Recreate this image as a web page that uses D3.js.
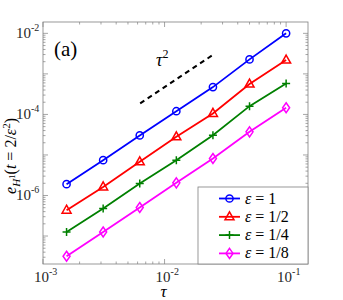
<!DOCTYPE html>
<html lang="en">
<head>
<meta charset="UTF-8">
<title>H1 error vs tau</title>
<script src="https://d3js.org/d3.v7.min.js"></script>
<style>
  body { margin: 0; background: #fff; }
</style>
</head>
<body>
<div id="chart"></div>
<script>
// time steps tau
var taus = [0.1, 0.05, 0.025, 0.0125, 0.00625, 0.003125, 0.0015625];

// errors for each epsilon
var errEps1 = [1.0e-2, 2.28e-3, 4.72e-4, 1.2e-4, 3.03e-5, 7.45e-6, 1.9e-6];
var errEps2 = [2.19e-3, 5.6e-4, 1.06e-4, 2.8e-5, 6.76e-6, 1.63e-6, 4.33e-7];
var errEps4 = [5.82e-4, 1.6e-4, 3.08e-5, 7.45e-6, 1.98e-6, 4.78e-7, 1.26e-7];
var errEps8 = [1.46e-4, 3.72e-5, 8.2e-6, 2.05e-6, 5.06e-7, 1.26e-7, 3.17e-8];

var seriesNames = ["1", "1/2", "1/4", "1/8"];

// reference slope line tau^2
var refTau = [0.0063, 0.0254];
var refErr = [1.87e-4, 1.87e-4 * Math.pow(0.0254 / 0.0063, 2)];

var xTickVals = [1e-3, 1e-2, 1e-1];
var yTickVals = [1e-6, 1e-4, 1e-2];

var W = 343, H = 300;
var margin = {top: 22, right: 35, bottom: 36, left: 43};
var width = W - margin.left - margin.right,
    height = H - margin.top - margin.bottom;

var serif = "'Liberation Serif', 'Times New Roman', Tinos, 'DejaVu Serif', serif";

var svg = d3.select("#chart").append("svg")
  .attr("width", W).attr("height", H)
  .attr("font-family", serif);

var x = d3.scaleLog().domain([1e-3, Math.pow(10, -0.82)]).range([0, width]);
var y = d3.scaleLog().domain([Math.pow(10, -7.69), Math.pow(10, -1.72)]).range([height, 0]);

var g = svg.append("g").attr("transform", "translate(" + margin.left + "," + margin.top + ")");

var axisColor = "#7f7f7f";

// minor / major ticks (inward, on all four sides)
function decadeTicks(lo, hi) {
  var out = [];
  for (var e = Math.floor(Math.log10(lo)); e <= Math.ceil(Math.log10(hi)); e++) {
    for (var m = 1; m <= 9; m++) {
      var v = m * Math.pow(10, e);
      if (v >= lo * 0.999 && v <= hi * 1.001) out.push({v: v, major: m === 1});
    }
  }
  return out;
}
var xt = decadeTicks(x.domain()[0], x.domain()[1]);
var yt = decadeTicks(y.domain()[0], y.domain()[1]);

var tickG = g.append("g").attr("stroke", axisColor).attr("stroke-width", 0.7);
xt.forEach(function(t) {
  var len = t.major ? 5 : 2.5;
  var px = x(t.v);
  tickG.append("line").attr("x1", px).attr("x2", px).attr("y1", height).attr("y2", height - len);
  tickG.append("line").attr("x1", px).attr("x2", px).attr("y1", 0).attr("y2", len);
});
yt.forEach(function(t) {
  var len = t.major ? 5 : 2.5;
  var py = y(t.v);
  tickG.append("line").attr("x1", 0).attr("x2", len).attr("y1", py).attr("y2", py);
  tickG.append("line").attr("x1", width).attr("x2", width - len).attr("y1", py).attr("y2", py);
});

// frame
g.append("rect").attr("width", width).attr("height", height)
  .attr("fill", "none").attr("stroke", axisColor).attr("stroke-width", 0.8);

// tick labels
function powLabel(sel, exp) {
  sel.append("tspan").text("10");
  sel.append("tspan").attr("dy", -7).attr("font-size", 10).text(exp);
}
xTickVals.forEach(function(v) {
  var t = g.append("text").attr("x", x(v) - 9).attr("y", height + 18)
    .attr("font-size", 15).attr("fill", "#262626");
  powLabel(t, String(Math.round(Math.log10(v))));
});
yTickVals.forEach(function(v) {
  var t = g.append("text").attr("x", -27).attr("y", y(v) + 5)
    .attr("font-size", 15).attr("fill", "#262626");
  powLabel(t, String(Math.round(Math.log10(v))));
});

// series
var colors = ["#0000ff", "#ff0000", "#008000", "#ff00ff"];
var errs = [errEps1, errEps2, errEps4, errEps8];
var symbols = ["circle", "triangle", "plus", "diamond"];

function drawMarker(sel, kind, cx, cy, col) {
  if (kind === "circle") {
    sel.append("circle").attr("cx", cx).attr("cy", cy).attr("r", 3.6)
      .attr("fill", "none").attr("stroke", col).attr("stroke-width", 1.5);
  } else if (kind === "triangle") {
    sel.append("path").attr("d", "M" + cx + "," + (cy - 5) + "L" + (cx + 4.5) + "," + (cy + 3) + "L" + (cx - 4.5) + "," + (cy + 3) + "Z")
      .attr("fill", "none").attr("stroke", col).attr("stroke-width", 1.5);
  } else if (kind === "plus") {
    sel.append("path").attr("d", "M" + (cx - 4) + "," + cy + "H" + (cx + 4) + "M" + cx + "," + (cy - 4) + "V" + (cy + 4))
      .attr("stroke", col).attr("stroke-width", 1.5);
  } else {
    sel.append("path").attr("d", "M" + cx + "," + (cy - 5) + "L" + (cx + 3.5) + "," + cy + "L" + cx + "," + (cy + 5) + "L" + (cx - 3.5) + "," + cy + "Z")
      .attr("fill", "none").attr("stroke", col).attr("stroke-width", 1.5);
  }
}

var line = d3.line().x(function(d) { return x(d[0]); }).y(function(d) { return y(d[1]); });

errs.forEach(function(arr, i) {
  var pts = taus.map(function(t, j) { return [t, arr[j]]; });
  g.append("path").datum(pts).attr("d", line)
    .attr("fill", "none").attr("stroke", colors[i]).attr("stroke-width", 1.8);
  pts.forEach(function(p) { drawMarker(g, symbols[i], x(p[0]), y(p[1]), colors[i]); });
});

// slope reference line
g.append("path").datum([[refTau[0], refErr[0]], [refTau[1], refErr[1]]]).attr("d", line)
  .attr("stroke", "#000").attr("stroke-width", 2).attr("stroke-dasharray", "5,4");
var tl = g.append("text").attr("x", x(0.0085)).attr("y", y(1.6e-3)).attr("font-size", 18).attr("fill", "#000");
tl.append("tspan").attr("font-style", "italic").text("τ");
tl.append("tspan").attr("dy", -8).attr("font-size", 12).text("2");

// panel label
g.append("text").attr("x", 11).attr("y", 34).attr("font-size", 21).attr("fill", "#000").text("(a)");

// legend
var lg = g.append("g").attr("transform", "translate(" + (width - 110) + "," + (height - 77) + ")");
lg.append("rect").attr("width", 110).attr("height", 77)
  .attr("fill", "#fff").attr("stroke", axisColor).attr("stroke-width", 0.8);
seriesNames.forEach(function(name, i) {
  var ly = 11.5 + i * 18.3;
  lg.append("line").attr("x1", 21).attr("x2", 42).attr("y1", ly).attr("y2", ly)
    .attr("stroke", colors[i]).attr("stroke-width", 1.8);
  drawMarker(lg, symbols[i], 31.5, ly, colors[i]);
  var t = lg.append("text").attr("x", 47).attr("y", ly + 5).attr("font-size", 16).attr("fill", "#000");
  t.append("tspan").attr("font-style", "italic").text("ε");
  t.append("tspan").text(" = " + name);
});

// axis titles
g.append("text").attr("x", x(1e-2) - 4).attr("y", height + 33).attr("font-size", 17)
  .attr("font-style", "italic").attr("fill", "#000").text("τ");

var yl = svg.append("text").attr("transform", "translate(16," + (margin.top + height / 2 + 13) + ") rotate(-90)")
  .attr("text-anchor", "middle").attr("font-size", 16).attr("fill", "#000");
yl.append("tspan").attr("font-style", "italic").text("e");
yl.append("tspan").attr("font-style", "italic").attr("font-size", 11).attr("dy", 4).text("H");
yl.append("tspan").attr("font-size", 9).attr("dy", -5).text("1");
yl.append("tspan").attr("dy", 1).text("(");
yl.append("tspan").attr("font-style", "italic").text("t");
yl.append("tspan").text(" = 2/");
yl.append("tspan").attr("font-style", "italic").text("ε");
yl.append("tspan").attr("font-size", 11).attr("dy", -6).text("2");
yl.append("tspan").attr("dy", 6).text(")");
</script>
</body>
</html>
